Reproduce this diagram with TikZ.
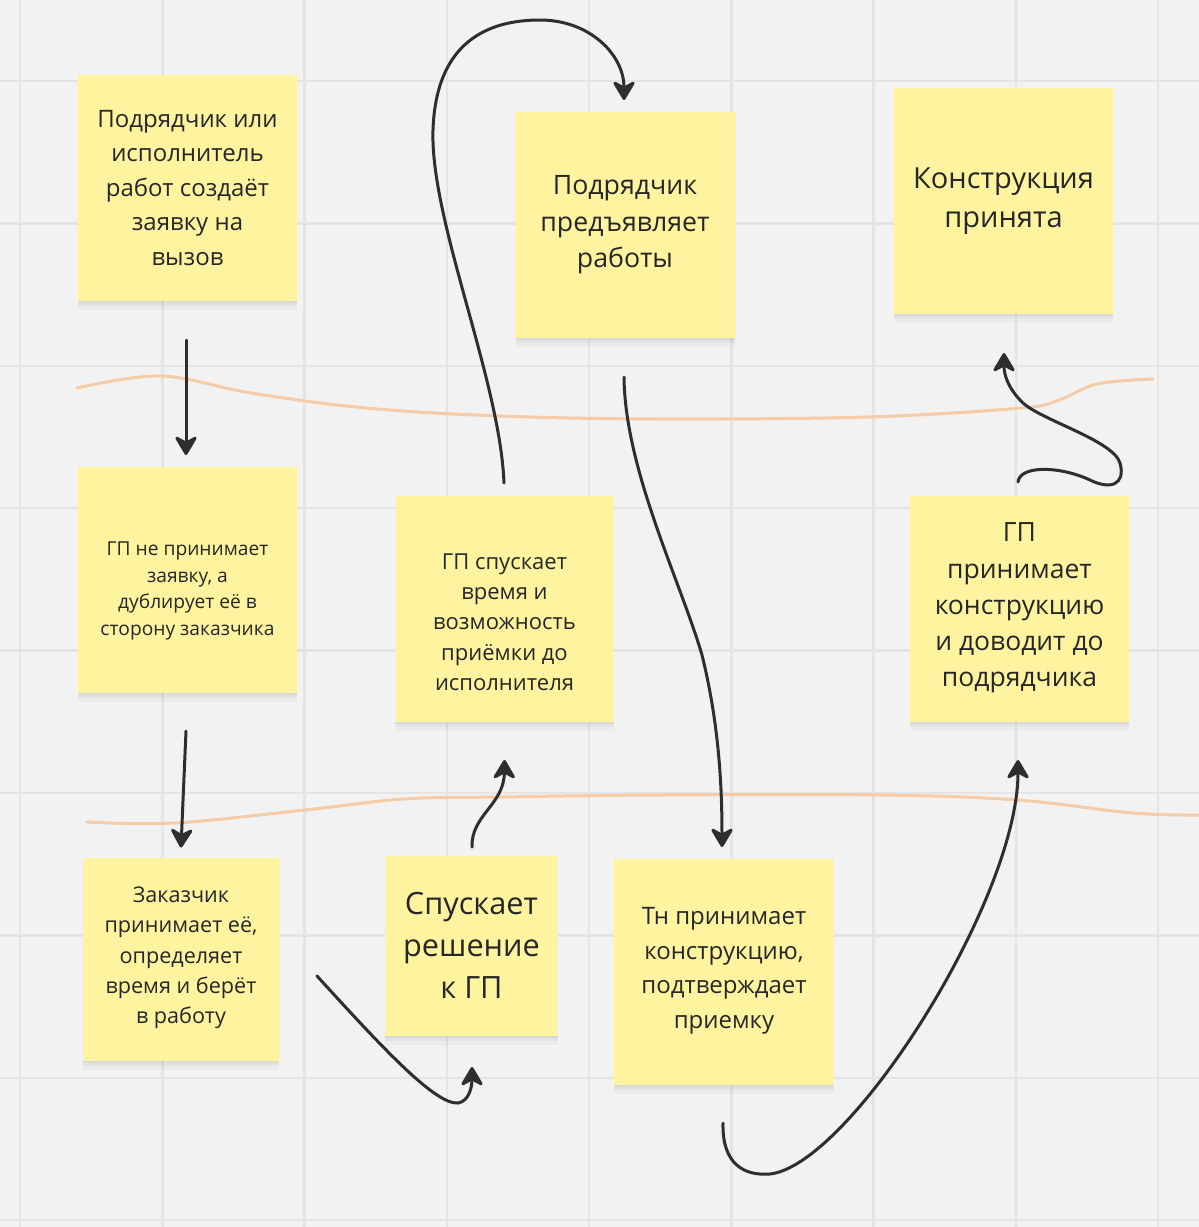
\documentclass[tikz,border=0pt]{standalone}
\usepackage{fontspec}
\setmainfont{Open Sans}
\usetikzlibrary{arrows.meta,shadows,calc}
\definecolor{board}{HTML}{F2F2F2}
\definecolor{gridc}{HTML}{E4E4E4}
\definecolor{stick}{HTML}{FEF4A0}
\definecolor{ink}{HTML}{262626}
\definecolor{peach}{HTML}{F6CBA8}
\definecolor{arrowc}{HTML}{2E2E2E}

\begin{document}
\begin{tikzpicture}[x=1pt,y=-1pt,inner sep=0pt,outer sep=0pt,
note/.style={fill=stick,rectangle,minimum width=219pt,minimum height=226pt,
  drop shadow={shadow xshift=0pt,shadow yshift=-2pt,opacity=.04,fill=black},
  drop shadow={shadow xshift=0pt,shadow yshift=-5pt,opacity=.035,fill=black},
  drop shadow={shadow xshift=0pt,shadow yshift=-9pt,opacity=.025,fill=black}},
notetext/.style={align=center,text=ink},
flow/.style={draw=arrowc,line width=3pt,line cap=round,-{Stealth[length=22pt,width=26pt,inset=7pt,round]}},
band/.style={draw=peach,line width=3pt,line cap=round},
gridline/.style={draw=gridc,line width=2.5pt}]

\useasboundingbox (0,0) rectangle (1199,1227);
\fill[board] (0,0) rectangle (1199,1227);

% board grid
\foreach \gx in {0,...,8}
  \draw[gridline] (20+142.25*\gx,0) -- (20+142.25*\gx,1227);
\foreach \gy in {0,...,8}
  \draw[gridline] (0,81+142.4*\gy) -- (1199,81+142.4*\gy);

% top row
\draw (187.5,188) node[note] (request) {} ++(0,0) node[notetext,font=\fontsize{24}{34.5}\selectfont] (requestT) {Подрядчик или\\исполнитель\\работ создаёт\\заявку на\\вызов};
\draw (625,225) node[note] (present) {} ++(0,0) node[notetext,font=\fontsize{26.7}{36.5}\selectfont] (presentT) {Подрядчик\\предъявляет\\работы};
\draw (1003.5,201) node[note] (done) {} ++(0,0) node[notetext,font=\fontsize{29}{39.5}\selectfont] (doneT) {Конструкция\\принята};

% middle row
\draw (187.5,580) node[note] (dup) {} ++(0,11) node[notetext,font=\fontsize{19.2}{26.5}\selectfont] (dupT) {ГП не принимает\\заявку, а\\дублирует её в\\сторону заказчика};
\draw (504.5,609) node[note] (pass) {} ++(0,13) node[notetext,font=\fontsize{22}{30.3}\selectfont] (passT) {ГП спускает\\время и\\возможность\\приёмки до\\исполнителя};
\draw (1019.5,609) node[note] (accept) {} ++(0,-1) node[notetext,font=\fontsize{26.5}{36.2}\selectfont] (acceptT) {ГП\\принимает\\конструкцию\\и доводит до\\подрядчика};

% bottom row
\draw (181,959) node[note,minimum width=196pt,minimum height=203pt] (client) {} ++(0,-1) node[notetext,font=\fontsize{21.6}{30.3}\selectfont] (clientT) {Заказчик\\принимает её,\\определяет\\время и берёт\\в работу};
\draw (471.5,946) node[note,minimum width=173pt,minimum height=180pt] (decide) {} ++(0,-1) node[notetext,font=\fontsize{30.7}{42}\selectfont] (decideT) {Спускает\\решение\\к ГП};
\draw (724,972) node[note,minimum width=220pt] (check) {} ++(0,-1) node[notetext,font=\fontsize{24}{34.5}\selectfont] (checkT) {Тн принимает\\конструкцию,\\подтверждает\\приемку};

% swimlane borders
\draw[band] plot[smooth,tension=.6] coordinates {(77,388) (161,376) (251,393) (366,408) (500,416) (660,419) (868,417) (1021,408) (1059,400) (1097,384) (1153,379)};
\draw[band] plot[smooth,tension=.6] coordinates {(87,822) (175,823) (305,810) (404,799) (500,797) (660,795) (880,795) (1017,800) (1133,813) (1199,815)};

% connectors
\coordinate (a1) at ($(request.south)+(-1.5,39)$);
\coordinate (a2) at ($(dup.north)+(-1.5,-12)$);
\draw[flow] (a1) -- (a2);

\coordinate (b1) at ($(dup.south)+(-1.5,38)$);
\coordinate (b2) at ($(client.north)+(0,-10)$);
\draw[flow] (b1) -- (b2);

\coordinate (c1) at ($(client.east)+(38,17)$);
\coordinate (c2) at ($(decide.south)+(0.5,31)$);
\draw[flow] (c1) .. controls (380,1045) and (435,1105) .. (458,1103) .. controls (470,1101) and (472,1085) .. (c2);

\coordinate (d1) at ($(decide.north)+(0.5,-9)$);
\coordinate (d2) at ($(pass.south)+(0,38)$);
\draw[flow] (d1) .. controls (471,815) and (504,805) .. (d2);

\coordinate (e1) at ($(pass.north)+(-0.5,-13)$);
\coordinate (e2) at ($(present.north)+(-1,-12)$);
\draw[flow] (e1) .. controls (500,380) and (430,220) .. (433,130) .. controls (436,40) and (490,20) .. (540,20) .. controls (590,20) and (624,55) .. (e2);

\coordinate (f1) at ($(present.south)+(-1,39)$);
\coordinate (f2) at ($(check.north)+(-2,-12)$);
\draw[flow] (f1) .. controls (625,470) and (680,580) .. (702,655) .. controls (718,720) and (722,780) .. (f2);

\coordinate (h1) at ($(check.south)+(-1,38)$);
\coordinate (h2) at ($(accept.south)+(-1.5,38)$);
\draw[flow] (h1) .. controls (722,1165) and (745,1176) .. (770,1174) .. controls (850,1165) and (1018,900) .. (h2);

\coordinate (k1) at ($(accept.north)+(-1.5,-14)$);
\coordinate (k2) at ($(done.south)+(0.5,39)$);
\draw[flow] (k1) .. controls (1020,465) and (1060,466) .. (1090,480) .. controls (1110,490) and (1126,485) .. (1120,463) .. controls (1113,440) and (1040,420) .. (1022,402) .. controls (1008,388) and (1004,375) .. (k2);
\end{tikzpicture}
\end{document}
